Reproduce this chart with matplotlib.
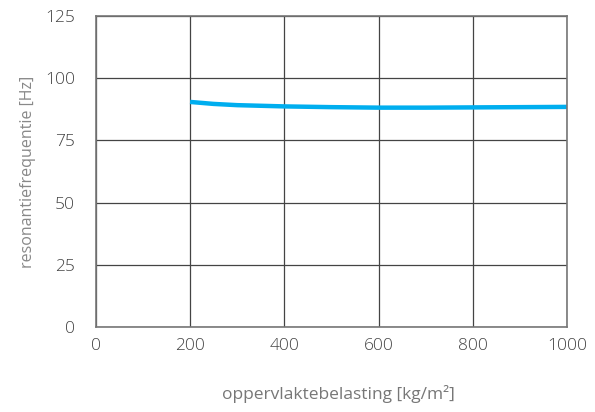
import matplotlib
matplotlib.use("Agg")
import matplotlib.pyplot as plt

load = [200, 250, 300, 400, 500, 600, 700, 800, 900, 1000]
freq = [90.5, 89.7, 89.2, 88.7, 88.4, 88.2, 88.2, 88.3, 88.4, 88.5]

xticks = [0, 200, 400, 600, 800, 1000]
yticks = [0, 25, 50, 75, 100, 125]

plt.rcParams['font.family'] = ['Open Sans', 'DejaVu Sans']
plt.rcParams['font.weight'] = 'light'

fig = plt.figure(figsize=(5.95, 4.12), dpi=100)
ax = fig.add_axes([0.161, 0.206, 0.792, 0.755])

ax.plot(load, freq, color='#00aeef', linewidth=3.2, solid_capstyle='butt')

ax.set_xlim(0, 1000)
ax.set_ylim(0, 125)
ax.set_xticks(xticks)
ax.set_yticks(yticks)
ax.grid(True, color='#444444', linewidth=0.9)
ax.set_axisbelow(True)
for s in ax.spines.values():
    s.set_color('#777777')
    s.set_linewidth(1.2)

ax.tick_params(length=0, labelsize=12.5, labelcolor='#444444')
ax.tick_params(axis='y', pad=15)
ax.tick_params(axis='x', pad=8)

ax.set_xlabel('oppervlaktebelasting [kg/m²]', fontsize=12.5, color='#777777', va='center')
ax.set_ylabel('resonantiefrequentie [Hz]', fontsize=11.5, color='#888888', va='center')
ax.xaxis.set_label_coords(0.514, -0.215)
ax.yaxis.set_label_coords(-0.144, 0.5)

fig.savefig('out.png', dpi=100)
